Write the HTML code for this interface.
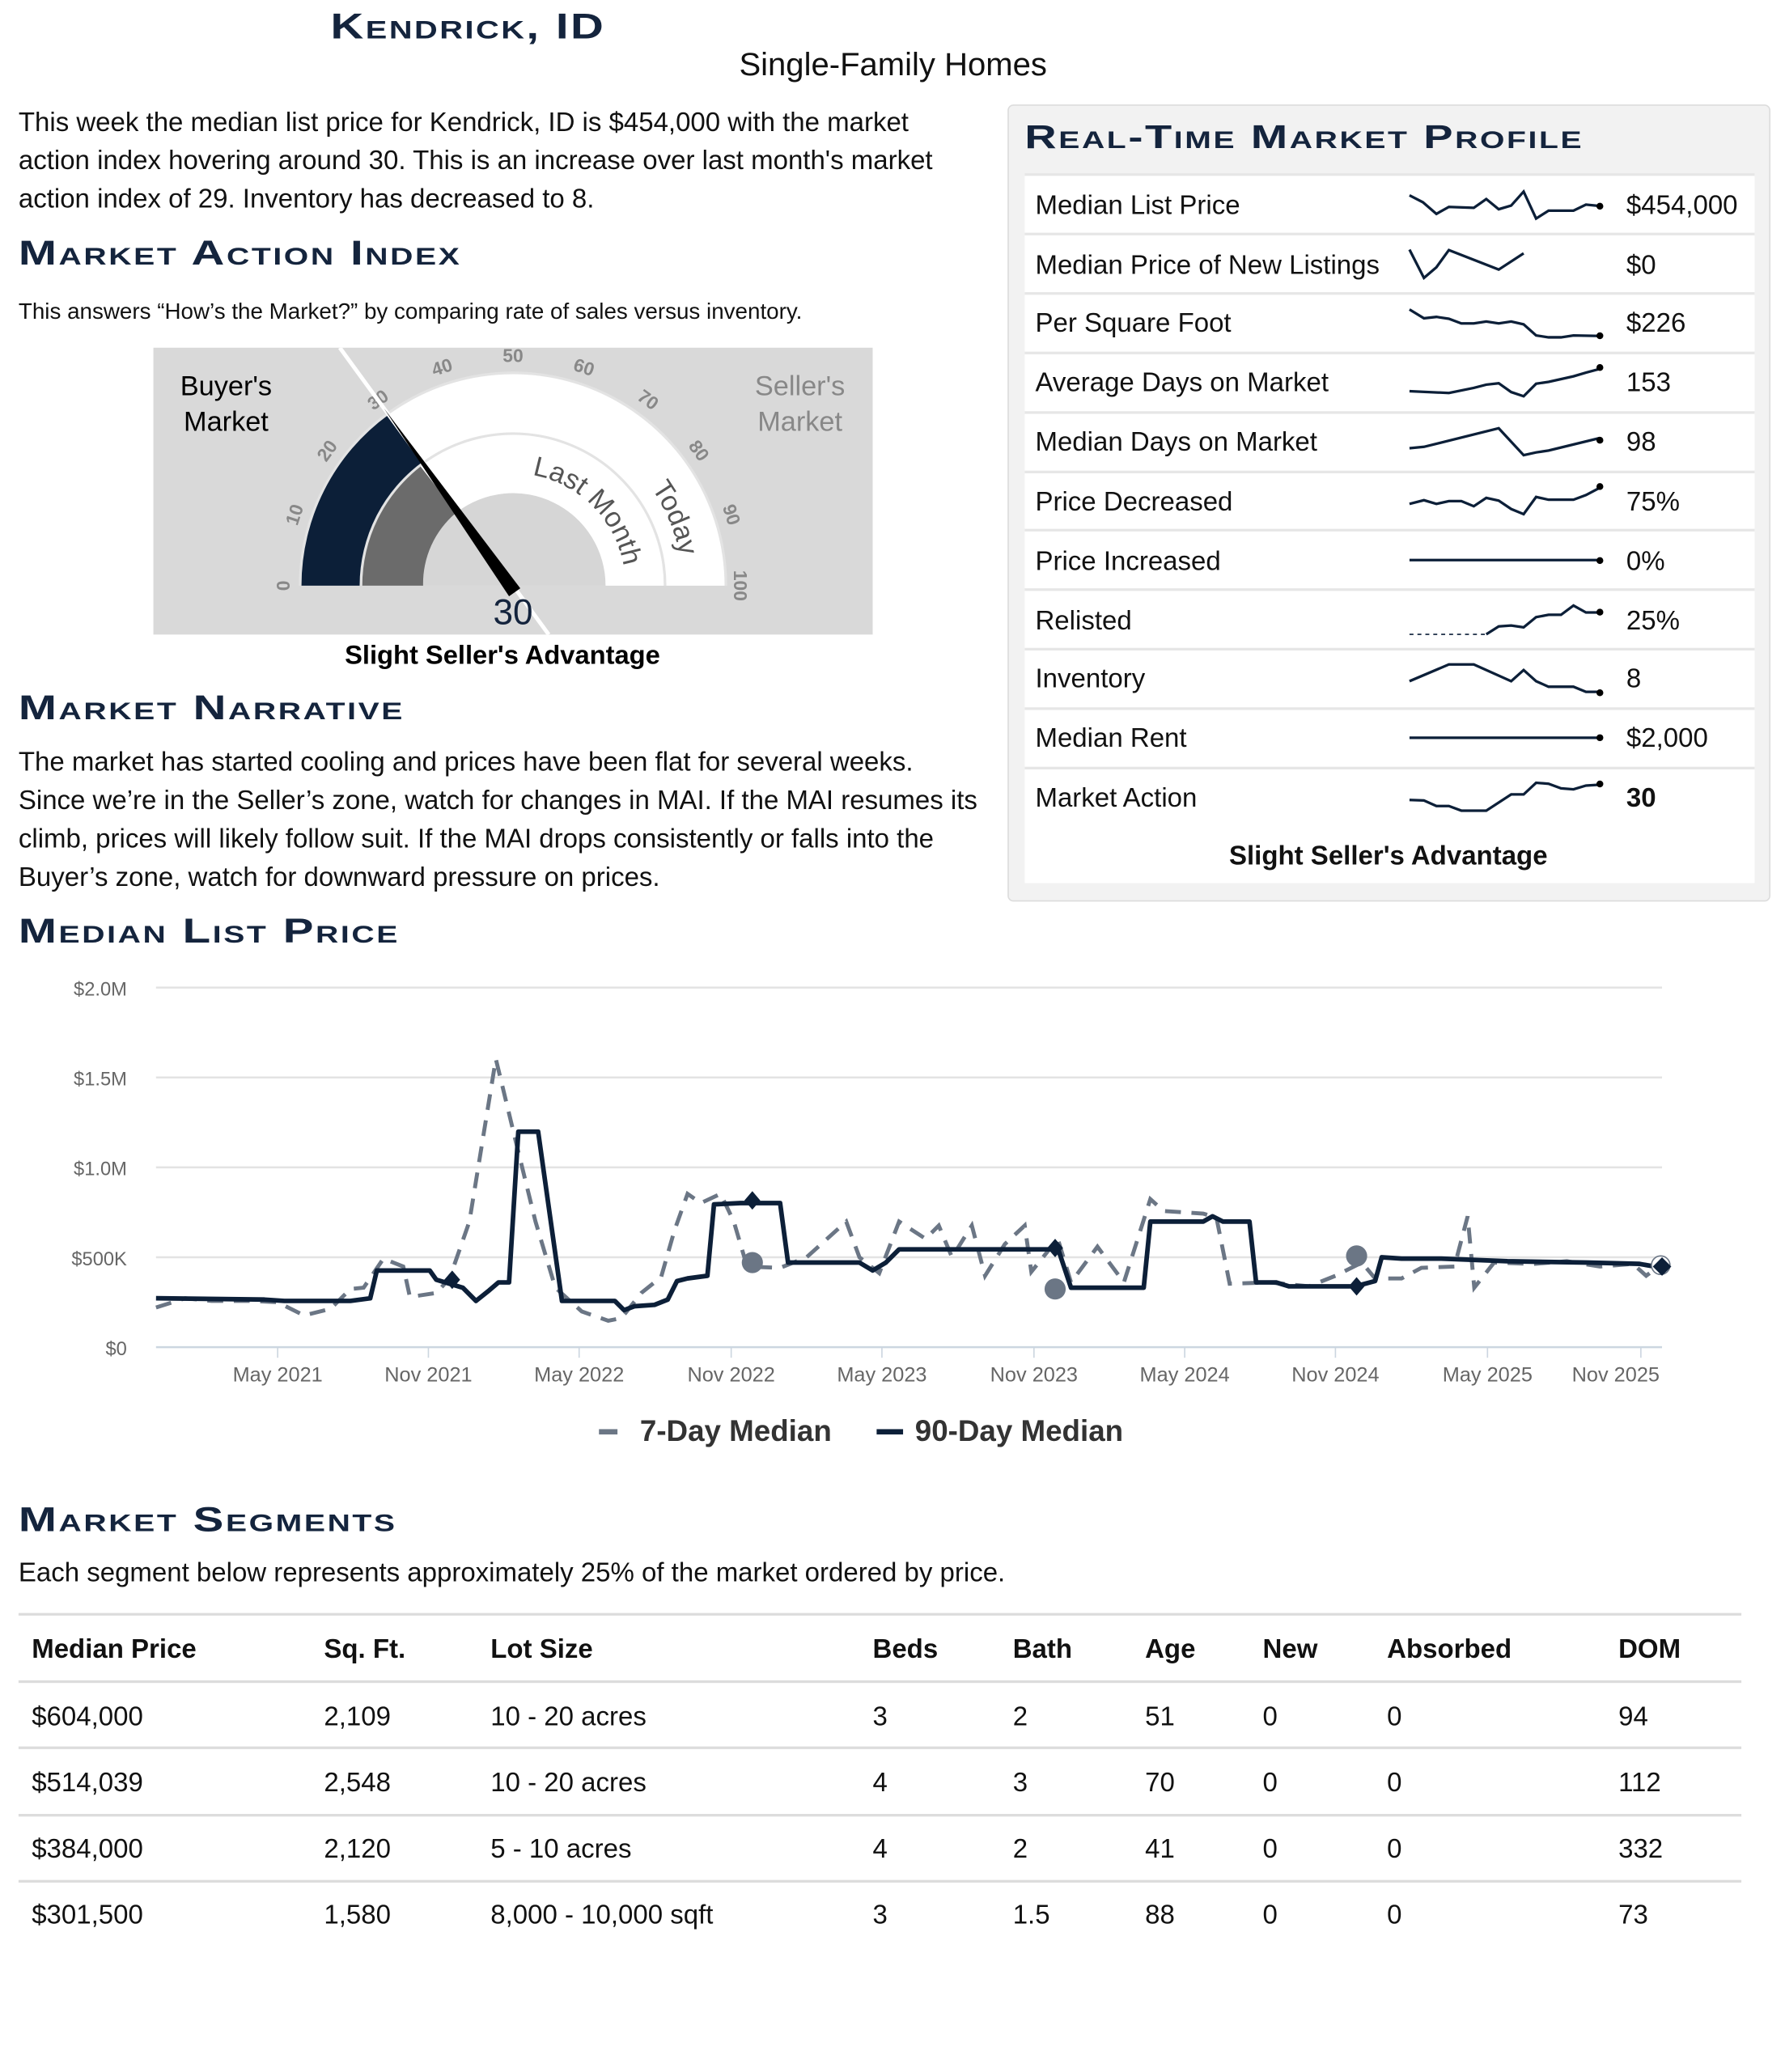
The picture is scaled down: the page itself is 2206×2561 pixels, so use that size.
<!DOCTYPE html>
<html><head><meta charset="utf-8"><style>
html,body{margin:0;padding:0;background:#fff;}
body{width:2206px;height:2560px;overflow:hidden;}
#w{position:absolute;left:0;top:0;width:1350px;height:1567px;transform:scale(1.63407);transform-origin:0 0;font-family:"Liberation Sans",sans-serif;color:#111;}
.a{position:absolute;white-space:nowrap;}
.h{position:absolute;white-space:nowrap;font-variant:small-caps;font-weight:bold;color:#14243d;font-size:26px;letter-spacing:1.2px;line-height:30px;transform:scaleX(1.33);transform-origin:0 0;}
.p{font-size:20.2px;line-height:29px;}
</style></head><body><div id="w">
<div class="h" style="left:250px;top:5px;font-size:27px;transform:scaleX(1.28)">Kendrick, ID</div>
<div class="a" style="left:559px;top:36px;font-size:24.5px">Single-Family Homes</div>
<div class="a p" style="left:14px;top:79px">This week the median list price for Kendrick, ID is $454,000 with the market<br>action index hovering around 30. This is an increase over last month's market<br>action index of 29. Inventory has decreased to 8.</div>
<div class="h" style="left:14px;top:176px">Market Action Index</div>
<div class="a" style="left:14px;top:226px;font-size:17px">This answers “How’s the Market?” by comparing rate of sales versus inventory.</div>

<svg class="a" style="left:0;top:0" width="1350" height="1567" viewBox="0 0 1350 1567">
<defs><clipPath id="gc"><rect x="116" y="263" width="544" height="217"/></clipPath></defs>
<rect x="116" y="263" width="544" height="217" fill="#d9d9d9"/>
<path d="M226 443 A162 162 0 0 1 550 443 Z" fill="#e3e3e3"/>
<path d="M318 443 A70 70 0 0 1 458 443 Z" fill="#d6d6d6"/>
<path d="M228 443 A160 160 0 0 1 293.95 313.6 L319.8 349.2 A116 116 0 0 0 272 443 Z" fill="#0c1f38"/>
<path d="M293.95 313.6 A160 160 0 0 1 548 443 L504 443 A116 116 0 0 0 319.8 349.2 Z" fill="#fff"/>
<path d="M274 443 A114 114 0 0 1 318.1 352.9 L345.1 387.7 A70 70 0 0 0 320 443 Z" fill="#6b6b6b"/>
<path d="M318.1 352.9 A114 114 0 0 1 502 443 L458 443 A70 70 0 0 0 345.1 387.7 Z" fill="#fff"/>
<path id="lm" d="M398.6 358.7 A85 85 0 0 1 473 443" fill="none"/>
<path id="td" d="M463.2 339.4 A128 128 0 0 1 516 443" fill="none"/>
<text font-size="21" fill="#555" font-family="Liberation Sans"><textPath href="#lm" startOffset="4">Last Month</textPath></text>
<text font-size="21" fill="#555" font-family="Liberation Sans"><textPath href="#td" startOffset="42">Today</textPath></text>
<g font-size="14" font-weight="bold" fill="#888" font-family="Liberation Sans" text-anchor="middle">
<text transform="translate(214,443) rotate(-90)" dy="5">0</text>
<text transform="translate(222.5,389.2) rotate(-72)" dy="5">10</text>
<text transform="translate(247.2,340.7) rotate(-54)" dy="5">20</text>
<text transform="translate(285.7,302.2) rotate(-36)" dy="5">30</text>
<text transform="translate(334.2,277.5) rotate(-18)" dy="5">40</text>
<text transform="translate(388,269) rotate(0)" dy="5">50</text>
<text transform="translate(441.8,277.5) rotate(18)" dy="5">60</text>
<text transform="translate(490.3,302.2) rotate(36)" dy="5">70</text>
<text transform="translate(528.8,340.7) rotate(54)" dy="5">80</text>
<text transform="translate(553.5,389.2) rotate(72)" dy="5">90</text>
<text transform="translate(560,443) rotate(90)" dy="5">100</text>
</g>
<line x1="257" y1="263" x2="415" y2="480" stroke="#fff" stroke-width="3" clip-path="url(#gc)"/>
<polygon points="290.5,309 393.5,445 385,451" fill="#000"/>
<text x="388" y="472" font-size="27" fill="#14243d" text-anchor="middle" font-family="Liberation Sans">30</text>
<text x="171" y="299" font-size="21" text-anchor="middle" font-family="Liberation Sans">Buyer's</text>
<text x="171" y="326" font-size="21" text-anchor="middle" font-family="Liberation Sans">Market</text>
<text x="605" y="299" font-size="21" fill="#888" text-anchor="middle" font-family="Liberation Sans">Seller's</text>
<text x="605" y="326" font-size="21" fill="#888" text-anchor="middle" font-family="Liberation Sans">Market</text>
<text x="380" y="502" font-size="20" font-weight="bold" text-anchor="middle" font-family="Liberation Sans">Slight Seller's Advantage</text>

<rect x="762.5" y="79.5" width="576" height="602" rx="4" fill="#f2f2f2" stroke="#dcdcdc"/>
<rect x="775" y="132" width="552" height="536" fill="#fff"/>
<g stroke="#e6e6e6" stroke-width="2">
<line x1="775" y1="132" x2="1327" y2="132"/><line x1="775" y1="177" x2="1327" y2="177"/><line x1="775" y1="222" x2="1327" y2="222"/><line x1="775" y1="267" x2="1327" y2="267"/><line x1="775" y1="312" x2="1327" y2="312"/><line x1="775" y1="357" x2="1327" y2="357"/><line x1="775" y1="401" x2="1327" y2="401"/><line x1="775" y1="446" x2="1327" y2="446"/><line x1="775" y1="491" x2="1327" y2="491"/><line x1="775" y1="536" x2="1327" y2="536"/><line x1="775" y1="581" x2="1327" y2="581"/>
</g>
<g font-family="Liberation Sans" font-size="20.2" fill="#111">
<text x="783" y="162">Median List Price</text><text x="1230" y="162">$454,000</text>
<text x="783" y="207">Median Price of New Listings</text><text x="1230" y="207">$0</text>
<text x="783" y="251">Per Square Foot</text><text x="1230" y="251">$226</text>
<text x="783" y="296">Average Days on Market</text><text x="1230" y="296">153</text>
<text x="783" y="341">Median Days on Market</text><text x="1230" y="341">98</text>
<text x="783" y="386">Price Decreased</text><text x="1230" y="386">75%</text>
<text x="783" y="431">Price Increased</text><text x="1230" y="431">0%</text>
<text x="783" y="476">Relisted</text><text x="1230" y="476">25%</text>
<text x="783" y="520">Inventory</text><text x="1230" y="520">8</text>
<text x="783" y="565">Median Rent</text><text x="1230" y="565">$2,000</text>
<text x="783" y="610">Market Action</text><text x="1230" y="610" font-weight="bold">30</text>
<text x="1050" y="654" font-weight="bold" text-anchor="middle">Slight Seller's Advantage</text>
</g>
<g transform="translate(1066,133) scale(0.377,0.351) translate(-818,-28)" fill="none" stroke="#0c1f38" stroke-width="2">
<polyline vector-effect="non-scaling-stroke" points="818,70 845,85 872,110 897,95 947,97 972,78 997,100 1022,92 1047,62 1072,120 1097,103 1147,103 1172,90 1200,93"/>
<polyline vector-effect="non-scaling-stroke" points="818,187 847,248 872,225 897,188 997,230 1047,195"/>
<polyline vector-effect="non-scaling-stroke" points="818,316 847,335 872,332 897,336 922,346 947,346 972,342 997,346 1022,342 1047,348 1072,372 1097,376 1122,376 1147,372 1200,373"/>
<polyline vector-effect="non-scaling-stroke" points="818,492 897,496 947,485 972,478 997,475 1022,494 1047,503 1072,476 1097,472 1147,460 1172,452 1200,444"/>
<polyline vector-effect="non-scaling-stroke" points="818,615 847,612 997,572 1047,630 1072,624 1097,620 1200,593"/>
<polyline vector-effect="non-scaling-stroke" points="818,735 847,727 872,735 897,729 922,729 947,740 972,722 997,728 1022,746 1047,757 1072,720 1097,726 1147,726 1172,716 1200,700"/>
<polyline vector-effect="non-scaling-stroke" points="818,856 1200,856"/>
<polyline vector-effect="non-scaling-stroke" stroke-width="1" stroke-dasharray="3,3" points="818,1016 972,1016"/>
<polyline vector-effect="non-scaling-stroke" points="972,1016 997,999 1022,997 1047,1001 1072,979 1097,974 1122,974 1147,954 1172,969 1200,969"/>
<polyline vector-effect="non-scaling-stroke" points="818,1117 897,1081 947,1081 1022,1117 1047,1093 1072,1117 1097,1129 1147,1129 1172,1140 1200,1140"/>
<polyline vector-effect="non-scaling-stroke" points="818,1239 1200,1239"/>
<polyline vector-effect="non-scaling-stroke" points="818,1373 847,1374 872,1386 897,1386 922,1396 972,1396 1022,1361 1047,1361 1072,1336 1097,1338 1122,1348 1147,1350 1172,1342 1200,1340"/>
</g>
<g fill="#000"><circle cx="1210" cy="156" r="2.6"/><circle cx="1210" cy="254" r="2.6"/><circle cx="1210" cy="278" r="2.6"/><circle cx="1210" cy="333" r="2.6"/><circle cx="1210" cy="368" r="2.6"/><circle cx="1210" cy="424" r="2.6"/><circle cx="1210" cy="463" r="2.6"/><circle cx="1210" cy="524" r="2.6"/><circle cx="1210" cy="558" r="2.6"/><circle cx="1210" cy="593" r="2.6"/></g>

<g stroke="#e3e3e3" stroke-width="1.5"><line x1="118" y1="747" x2="1257" y2="747"/><line x1="118" y1="815" x2="1257" y2="815"/><line x1="118" y1="883" x2="1257" y2="883"/><line x1="118" y1="951" x2="1257" y2="951"/></g>
<line x1="118" y1="1019" x2="1257" y2="1019" stroke="#ccd6e0" stroke-width="1.5"/>
<g stroke="#ccd6e0"><line x1="210" y1="1019" x2="210" y2="1027"/><line x1="324" y1="1019" x2="324" y2="1027"/><line x1="438" y1="1019" x2="438" y2="1027"/><line x1="553" y1="1019" x2="553" y2="1027"/><line x1="667" y1="1019" x2="667" y2="1027"/><line x1="782" y1="1019" x2="782" y2="1027"/><line x1="896" y1="1019" x2="896" y2="1027"/><line x1="1010" y1="1019" x2="1010" y2="1027"/><line x1="1125" y1="1019" x2="1125" y2="1027"/><line x1="1241" y1="1019" x2="1241" y2="1027"/></g>
<g font-family="Liberation Sans" font-size="14.5" fill="#666" text-anchor="end"><text x="96" y="753">$2.0M</text><text x="96" y="821">$1.5M</text><text x="96" y="889">$1.0M</text><text x="96" y="957">$500K</text><text x="96" y="1025">$0</text></g>
<g font-family="Liberation Sans" font-size="15.5" fill="#666" text-anchor="middle"><text x="210" y="1045">May 2021</text><text x="324" y="1045">Nov 2021</text><text x="438" y="1045">May 2022</text><text x="553" y="1045">Nov 2022</text><text x="667" y="1045">May 2023</text><text x="782" y="1045">Nov 2023</text><text x="896" y="1045">May 2024</text><text x="1010" y="1045">Nov 2024</text><text x="1125" y="1045">May 2025</text><text x="1222" y="1045">Nov 2025</text></g>
<polyline fill="none" stroke="#6b7685" stroke-width="3" stroke-dasharray="12,8" points="118,989 140,982 160,984 190,984 210,985 230,995 250,990 265,975 275,974 290,952 305,958 310,981 330,978 340,967 355,924 375,801 390,863 405,924 420,974 440,992 460,999 470,997 485,978 500,966 510,931 520,903 530,910 545,903 555,924 565,958 590,959 610,951 640,924 650,951 665,963 680,924 700,937 710,927 720,951 735,927 745,965 760,941 775,927 780,962 800,937 810,970 830,943 850,970 870,907 880,916 910,918 920,921 930,971 960,970 990,973 1010,965 1030,955 1040,967 1060,967 1075,959 1100,958 1110,920 1115,974 1130,955 1160,956 1185,954 1210,958 1235,956 1245,965 1257,956"/>
<polyline fill="none" stroke="#0c1f38" stroke-width="3.5" stroke-linejoin="round" points="118,982 200,983 215,984 265,984 280,982 285,961 325,961 330,968 350,974 360,984 370,976 377,970 385,970 392,856 407,856 425,984 465,984 472,991 480,988 495,987 505,983 512,969 520,967 535,965 540,911 560,910 580,910 590,910 596,955 650,955 660,961 670,955 680,945 795,945 800,944 810,974 865,974 870,924 910,924 917,920 925,924 945,924 950,970 965,970 975,973 1025,973 1040,969 1045,951 1060,952 1090,952 1140,954 1200,955 1240,956 1257,959"/>
<g fill="#6b7685"><circle cx="569" cy="955" r="8"/><circle cx="798" cy="975" r="8"/><circle cx="1026" cy="950" r="8"/><circle cx="1256" cy="957" r="7" fill="#fff" stroke="#6b7685"/></g>
<g fill="#0c1f38"><path d="M342 961 l6 7 -6 7 -6 -7z"/><path d="M569 901 l6 7 -6 7 -6 -7z"/><path d="M798 937 l6 7 -6 7 -6 -7z"/><path d="M1026 966 l6 7 -6 7 -6 -7z"/><path d="M1257 951 l7 7 -7 7 -7 -7z"/></g>
<rect x="453" y="1081" width="14" height="4" fill="#6b7685"/>
<rect x="663" y="1081" width="20" height="4" fill="#0c1f38"/>
<g font-family="Liberation Sans" font-size="22.5" font-weight="bold" fill="#333"><text x="484" y="1090">7-Day Median</text><text x="692" y="1090">90-Day Median</text></g>
<g stroke="#dcdcdc" stroke-width="2"><line x1="14" y1="1221" x2="1317" y2="1221"/><line x1="14" y1="1272" x2="1317" y2="1272"/><line x1="14" y1="1322" x2="1317" y2="1322"/><line x1="14" y1="1373" x2="1317" y2="1373"/><line x1="14" y1="1423" x2="1317" y2="1423"/></g>
<g font-family="Liberation Sans" font-size="20.2" fill="#111">
<g font-weight="bold"><text x="24" y="1254">Median Price</text><text x="245" y="1254">Sq. Ft.</text><text x="371" y="1254">Lot Size</text><text x="660" y="1254">Beds</text><text x="766" y="1254">Bath</text><text x="866" y="1254">Age</text><text x="955" y="1254">New</text><text x="1049" y="1254">Absorbed</text><text x="1224" y="1254">DOM</text></g>
<text x="24" y="1305">$604,000</text><text x="245" y="1305">2,109</text><text x="371" y="1305">10 - 20 acres</text><text x="660" y="1305">3</text><text x="766" y="1305">2</text><text x="866" y="1305">51</text><text x="955" y="1305">0</text><text x="1049" y="1305">0</text><text x="1224" y="1305">94</text>
<text x="24" y="1355">$514,039</text><text x="245" y="1355">2,548</text><text x="371" y="1355">10 - 20 acres</text><text x="660" y="1355">4</text><text x="766" y="1355">3</text><text x="866" y="1355">70</text><text x="955" y="1355">0</text><text x="1049" y="1355">0</text><text x="1224" y="1355">112</text>
<text x="24" y="1405">$384,000</text><text x="245" y="1405">2,120</text><text x="371" y="1405">5 - 10 acres</text><text x="660" y="1405">4</text><text x="766" y="1405">2</text><text x="866" y="1405">41</text><text x="955" y="1405">0</text><text x="1049" y="1405">0</text><text x="1224" y="1405">332</text>
<text x="24" y="1455">$301,500</text><text x="245" y="1455">1,580</text><text x="371" y="1455">8,000 - 10,000 sqft</text><text x="660" y="1455">3</text><text x="766" y="1455">1.5</text><text x="866" y="1455">88</text><text x="955" y="1455">0</text><text x="1049" y="1455">0</text><text x="1224" y="1455">73</text>
</g>
</svg>

<div class="h" style="left:775px;top:89px;font-size:25px">Real-Time Market Profile</div>
<div class="h" style="left:14px;top:520px">Market Narrative</div>
<div class="a p" style="left:14px;top:563px">The market has started cooling and prices have been flat for several weeks.<br>Since we’re in the Seller’s zone, watch for changes in MAI. If the MAI resumes its<br>climb, prices will likely follow suit. If the MAI drops consistently or falls into the<br>Buyer’s zone, watch for downward pressure on prices.</div>
<div class="h" style="left:14px;top:689px">Median List Price</div>
<div class="h" style="left:14px;top:1134px">Market Segments</div>
<div class="a" style="left:14px;top:1179px;font-size:20.2px">Each segment below represents approximately 25% of the market ordered by price.</div>
</div></body></html>
